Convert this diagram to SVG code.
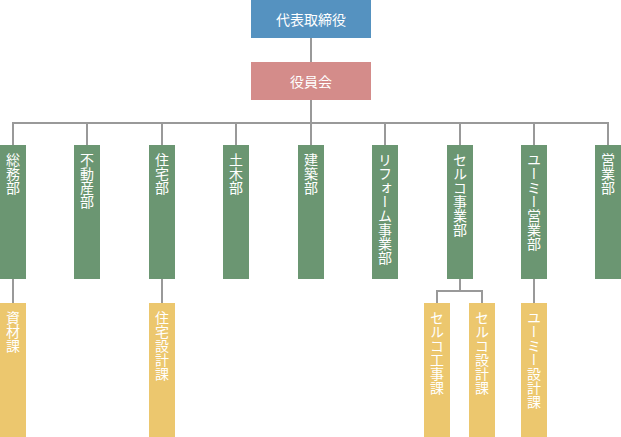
<svg xmlns="http://www.w3.org/2000/svg" width="621" height="437" viewBox="0 0 621 437">
<style>
.ln{stroke:#999;stroke-width:2;fill:none}
.t{fill:#fff;font-family:"Noto Sans CJK JP","Noto Sans",sans-serif;font-size:14px}
.h{text-anchor:middle;dominant-baseline:central}
.v{writing-mode:vertical-rl;text-orientation:upright;text-anchor:start}
.g{fill:#6b9672}
.y{fill:#ecc76e}
</style>
<rect width="621" height="437" fill="#fff"/>
<g id="connectors">
<path class="ln" d="M311 38V62M311 100V123M13 123H609M13 122V145M87 122V145M162 122V145M236 122V145M311 122V145M385 122V145M460 122V145M534 122V145M608 122V145"/>
<path class="ln" d="M13 279V303M162 279V303M460 279V291M437 291H483M437 290V303M482 290V303M534 279V303"/>
</g>
<g id="ceo"><rect x="251" y="0" width="120" height="38" fill="#5592c0"/><text class="t h" x="311" y="19">代表取締役</text></g>
<g id="board"><rect x="251" y="62" width="120" height="38" fill="#d48c8a"/><text class="t h" x="311" y="81">役員会</text></g>
<g id="d1"><rect class="g" x="0" y="145" width="26" height="134"/><text class="t v" x="13" y="153">総務部</text></g>
<g id="d2"><rect class="g" x="74" y="145" width="26" height="134"/><text class="t v" x="87" y="153">不動産部</text></g>
<g id="d3"><rect class="g" x="149" y="145" width="26" height="134"/><text class="t v" x="162" y="153">住宅部</text></g>
<g id="d4"><rect class="g" x="223" y="145" width="26" height="134"/><text class="t v" x="236" y="153">土木部</text></g>
<g id="d5"><rect class="g" x="298" y="145" width="26" height="134"/><text class="t v" x="311" y="153">建築部</text></g>
<g id="d6"><rect class="g" x="372" y="145" width="26" height="134"/><text class="t v" x="385" y="153">リフォーム事業部</text></g>
<g id="d7"><rect class="g" x="447" y="145" width="26" height="134"/><text class="t v" x="460" y="153">セルコ事業部</text></g>
<g id="d8"><rect class="g" x="521" y="145" width="26" height="134"/><text class="t v" x="534" y="153">ユーミー営業部</text></g>
<g id="d9"><rect class="g" x="595" y="145" width="26" height="134"/><text class="t v" x="608" y="153">営業部</text></g>
<g id="s1"><rect class="y" x="0" y="303" width="26" height="134"/><text class="t v" x="13" y="311">資材課</text></g>
<g id="s2"><rect class="y" x="149" y="303" width="26" height="134"/><text class="t v" x="162" y="311">住宅設計課</text></g>
<g id="s3"><rect class="y" x="424" y="303" width="26" height="134"/><text class="t v" x="437" y="311">セルコ工事課</text></g>
<g id="s4"><rect class="y" x="469" y="303" width="26" height="134"/><text class="t v" x="482" y="311">セルコ設計課</text></g>
<g id="s5"><rect class="y" x="521" y="303" width="26" height="134"/><text class="t v" x="534" y="311">ユーミー設計課</text></g>
</svg>
